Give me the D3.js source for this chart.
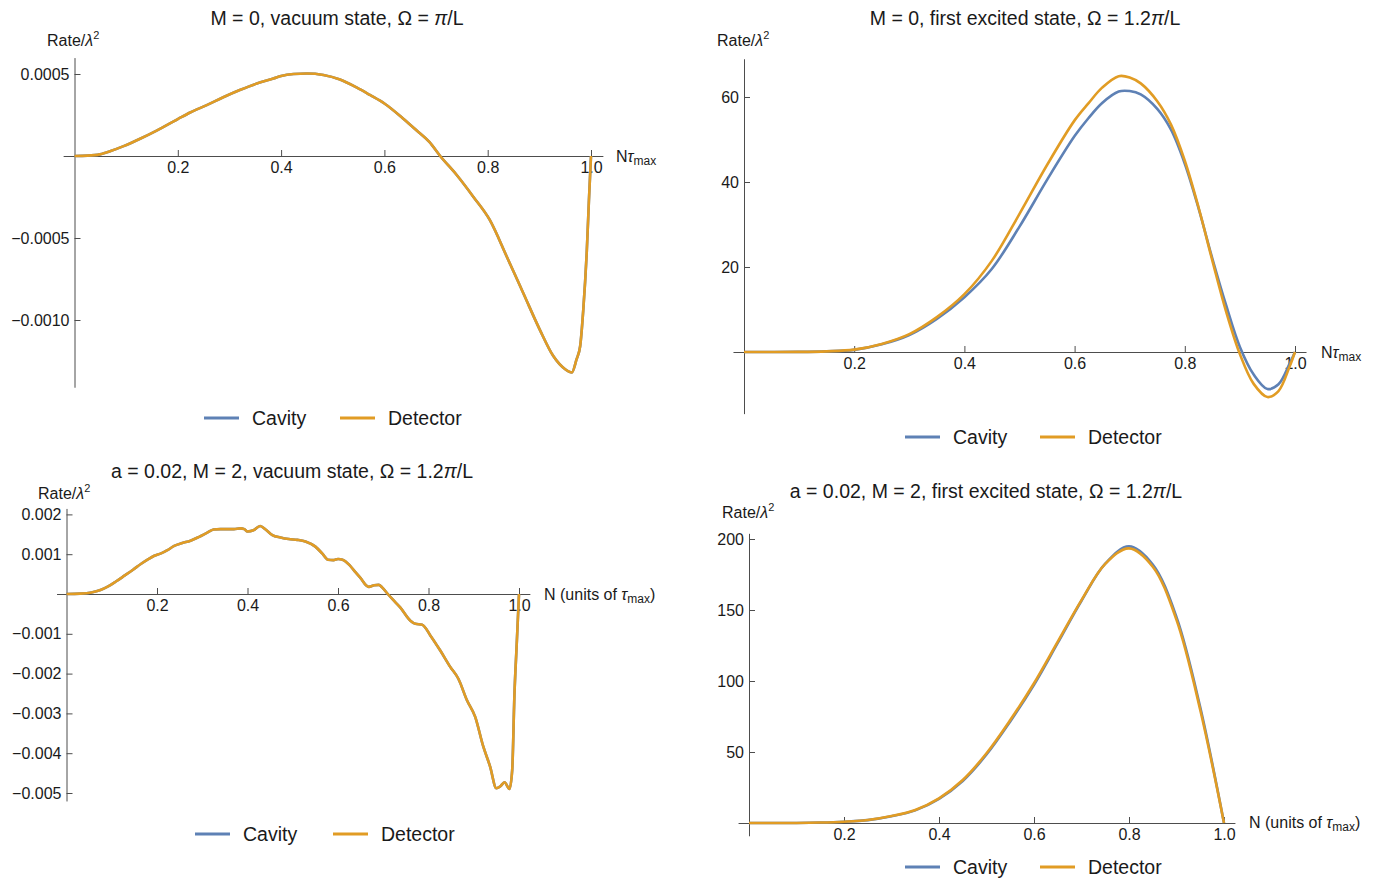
<!DOCTYPE html>
<html><head><meta charset="utf-8">
<script src="https://cdn.jsdelivr.net/npm/d3@7"></script>
<style>
body{margin:0;background:#fff}
text{font-family:"Liberation Sans",Arial,sans-serif;fill:#1a1a1a}
</style>
</head><body>
<svg id="c" width="1385" height="878"></svg>
<script>
// ---------- data ----------
const seriesNames = ["Cavity", "Detector"];
const seriesColors = ["#5E81B5", "#E19C24"];

// Panel 1: M = 0, vacuum state
const p1X = [0,0.025,0.049,0.07,0.095,0.127,0.159,0.2,0.224,0.256,0.288,0.32,0.353,0.385,0.4,0.424,0.45,0.482,0.514,0.546,0.572,0.6,0.636,0.662,0.687,0.708,0.74,0.772,0.804,0.837,0.869,0.901,0.927,0.95,0.963,0.972,0.979,0.985,0.992,0.996,1.0];
const p1Detector = [0,0.000002,0.00001,0.00003,0.00006,0.000105,0.000155,0.000225,0.000265,0.00031,0.000358,0.000402,0.000442,0.000472,0.000488,0.0005,0.000503,0.000494,0.000466,0.000418,0.000372,0.00032,0.000229,0.000157,0.000086,0,-0.000116,-0.000248,-0.00039,-0.000614,-0.000837,-0.00106,-0.00122,-0.0013,-0.00132,-0.00124,-0.00116,-0.00094,-0.00057,-0.00027,0];
const p1Cavity = [0,0.000002,0.00001,0.00003,0.00006,0.000105,0.000155,0.000225,0.000265,0.00031,0.000358,0.000402,0.000442,0.000472,0.000488,0.0005,0.000503,0.000494,0.000466,0.000418,0.000372,0.00032,0.000229,0.000157,0.000086,0,-0.000116,-0.000248,-0.00039,-0.000614,-0.000837,-0.00106,-0.00122,-0.0013,-0.00132,-0.00124,-0.00116,-0.00094,-0.00057,-0.00027,0];
const p1YTicks = [0.0005, -0.0005, -0.0010];
const p1YTickLabels = ["0.0005", "\u22120.0005", "\u22120.0010"];

// Panel 2: M = 0, first excited state
const p2X = [0,0.1,0.15,0.2,0.25,0.3,0.35,0.4,0.45,0.5,0.55,0.6,0.625,0.65,0.68,0.7,0.72,0.75,0.775,0.8,0.825,0.85,0.875,0.9,0.925,0.95,0.97,0.99,1.0];
const p2Detector = [0,0.02,0.15,0.55,1.9,4.2,8.2,13.6,21.5,32.5,44.0,54.5,58.5,62.2,64.9,64.6,63.2,59.0,53.5,45.0,34.0,21.5,9.5,-0.5,-7.5,-10.6,-9.2,-3.5,0];
const p2Cavity = [0,0.02,0.15,0.5,1.8,4.0,7.8,12.9,19.6,29.5,40.5,50.8,55.0,58.6,61.3,61.4,60.6,57.2,52.3,44.3,33.8,22.0,11.0,1.2,-5.3,-8.7,-7.6,-2.8,0];
const p2YTicks = [20, 40, 60];
const p2YTickLabels = ["20", "40", "60"];

// Panel 3: a = 0.02, M = 2, vacuum state
const p3X = [0,0.03,0.055,0.075,0.092,0.11,0.128,0.147,0.165,0.18,0.194,0.209,0.223,0.238,0.256,0.274,0.292,0.311,0.325,0.34,0.355,0.37,0.384,0.393,0.4,0.413,0.428,0.44,0.455,0.473,0.491,0.51,0.528,0.55,0.565,0.578,0.59,0.6,0.61,0.625,0.637,0.65,0.662,0.668,0.68,0.69,0.698,0.71,0.722,0.737,0.76,0.771,0.786,0.804,0.826,0.848,0.866,0.885,0.903,0.921,0.936,0.95,0.959,0.968,0.979,0.985,0.99,0.995,1.0];
const p3Detector = [0,0.00001,0.00004,0.0001,0.00019,0.00032,0.00046,0.00061,0.00076,0.00087,0.00096,0.00102,0.0011,0.00121,0.00128,0.00134,0.00143,0.00154,0.00162,0.00163,0.00163,0.00163,0.00165,0.00163,0.00157,0.0016,0.00171,0.00162,0.00148,0.00142,0.00138,0.00136,0.00132,0.00119,0.00102,0.00086,0.00085,0.00088,0.00086,0.00073,0.00057,0.0004,0.00022,0.00018,0.00022,0.00023,0.00016,0,-0.00015,-0.00033,-0.00067,-0.00075,-0.00077,-0.00104,-0.00142,-0.00183,-0.00213,-0.00267,-0.00308,-0.00383,-0.00433,-0.00488,-0.00483,-0.00473,-0.0049,-0.00442,-0.0025,-0.00125,0];
const p3Cavity = [0,0.00001,0.00004,0.0001,0.00019,0.00032,0.00046,0.00061,0.00076,0.00087,0.00096,0.00102,0.0011,0.00121,0.00128,0.00134,0.00143,0.00154,0.00162,0.00163,0.00163,0.00163,0.00165,0.00163,0.00157,0.0016,0.00171,0.00162,0.00148,0.00142,0.00138,0.00136,0.00132,0.00119,0.00102,0.00086,0.00085,0.00088,0.00086,0.00073,0.00057,0.0004,0.00022,0.00018,0.00022,0.00023,0.00016,0,-0.00015,-0.00033,-0.00067,-0.00075,-0.00077,-0.00104,-0.00142,-0.00183,-0.00213,-0.00267,-0.00308,-0.00383,-0.00433,-0.00488,-0.00483,-0.00473,-0.0049,-0.00442,-0.0025,-0.00125,0];
const p3YTicks = [0.002, 0.001, -0.001, -0.002, -0.003, -0.004, -0.005];
const p3YTickLabels = ["0.002", "0.001", "\u22120.001", "\u22120.002", "\u22120.003", "\u22120.004", "\u22120.005"];

// Panel 4: a = 0.02, M = 2, first excited state
const p4X = [0,0.1,0.15,0.2,0.25,0.3,0.35,0.4,0.45,0.5,0.55,0.6,0.65,0.7,0.75,0.8,0.85,0.9,0.95,1.0];
const p4Detector = [0,0.05,0.3,0.9,2.1,4.9,9.2,17.4,30.3,49.1,72.5,98.4,127.7,157,182.5,193.4,180.5,143,79.6,0];
const p4Cavity = [0,0.05,0.3,0.9,2.0,4.7,8.9,17.0,29.6,48.2,71.5,97.3,126.8,156.5,182.6,194.8,182,145,81.5,0];
const p4YTicks = [50, 100, 150, 200];
const p4YTickLabels = ["50", "100", "150", "200"];

const xTicks = [0.2, 0.4, 0.6, 0.8, 1.0];
const xTickLabels = ["0.2", "0.4", "0.6", "0.8", "1.0"];

// ---------- layout ----------
const panels = [
  {x: p1X, series: [p1Cavity, p1Detector], yTicks: p1YTicks, yLabels: p1YTickLabels, smooth: false,
   xPx: [74.5, 591], xExt: [-0.022, 1.023], yRef: [0, 0.0005], yPx: [156, 74], yExt: [-0.00141, 0.0006], yMinorStep: 0.0001,
   title: [["M = 0, vacuum state, \u03A9 = ",""],["\u03C0","i"],["/L",""]], titlePos: [337, 25],
   yLab: [47, 46], xLab: {pos: [616, 162], kind: "short"}, legendY: 418, legendX: [204, 340]},
  {x: p2X, series: [p2Cavity, p2Detector], yTicks: p2YTicks, yLabels: p2YTickLabels, smooth: true,
   xPx: [744, 1295], xExt: [-0.02, 1.02], yRef: [0, 60], yPx: [352, 97], yExt: [-14.5, 69], yMinorStep: 5,
   title: [["M = 0, first excited state, \u03A9 = 1.2",""],["\u03C0","i"],["/L",""]], titlePos: [1025, 25],
   yLab: [717, 46], xLab: {pos: [1321, 358], kind: "short"}, legendY: 437, legendX: [905, 1040]},
  {x: p3X, series: [p3Cavity, p3Detector], yTicks: p3YTicks, yLabels: p3YTickLabels, smooth: false,
   xPx: [66.5, 519], xExt: [-0.022, 1.024], yRef: [0, -0.005], yPx: [594, 793], yExt: [-0.0052, 0.00215], yMinorStep: 0.0002,
   title: [["a = 0.02, M = 2, vacuum state, \u03A9 = 1.2",""],["\u03C0","i"],["/L",""]], titlePos: [292, 478],
   yLab: [38, 499], xLab: {pos: [544, 600], kind: "long"}, legendY: 834, legendX: [195, 333]},
  {x: p4X, series: [p4Cavity, p4Detector], yTicks: p4YTicks, yLabels: p4YTickLabels, smooth: true,
   xPx: [749, 1224], xExt: [-0.023, 1.023], yRef: [0, 200], yPx: [823, 539], yExt: [-9, 204], yMinorStep: 10,
   title: [["a = 0.02, M = 2, first excited state, \u03A9 = 1.2",""],["\u03C0","i"],["/L",""]], titlePos: [986, 498],
   yLab: [722, 518], xLab: {pos: [1249, 828], kind: "long"}, legendY: 867, legendX: [905, 1040]}
];

const svg = d3.select("#c");
const axisColor = "#4d4d4d";
const tickFont = 16, titleFont = 19.5, axisLabFont = 16, legendFont = 19.5;

panels.forEach(p => {
  const g = svg.append("g");
  const xs = d3.scaleLinear().domain([0, 1]).range(p.xPx);
  const ys = d3.scaleLinear().domain(p.yRef).range(p.yPx);
  const xAxisScale = xs.copy().domain(p.xExt).range(p.xExt.map(xs));
  const yAxisScale = ys.copy().domain(p.yExt).range(p.yExt.map(ys));
  const y0 = ys(0), x0 = xs(0);

  // minor ticks
  const xMinor = d3.range(1, 21).map(i => i * 0.05);
  const yMinor = d3.range(Math.ceil(p.yExt[0] / p.yMinorStep - 1e-9), Math.floor(p.yExt[1] / p.yMinorStep + 1e-9) + 1)
    .map(i => i * p.yMinorStep).filter(v => Math.abs(v) > 1e-12);

  const gx = g.append("g").attr("transform", `translate(0,${y0})`);
  gx.call(d3.axisBottom(xAxisScale).tickValues(xMinor).tickSizeInner(-4).tickSizeOuter(0).tickFormat(""));
  gx.call(d3.axisBottom(xAxisScale).tickValues(xTicks).tickSizeInner(-6).tickSizeOuter(0).tickPadding(6)
    .tickFormat((d, i) => xTickLabels[i]));
  const gy = g.append("g").attr("transform", `translate(${x0},0)`);
  gy.call(d3.axisLeft(yAxisScale).tickValues(yMinor).tickSizeInner(-4).tickSizeOuter(0).tickFormat(""));
  gy.call(d3.axisLeft(yAxisScale).tickValues(p.yTicks).tickSizeInner(-6).tickSizeOuter(0).tickPadding(5)
    .tickFormat((d, i) => p.yLabels[i]));
  [gx, gy].forEach(a => {
    a.selectAll("path,line").attr("stroke", axisColor).attr("stroke-width", 1);
    a.selectAll("text").attr("font-family", '"Liberation Sans",Arial,sans-serif').attr("font-size", tickFont).attr("fill", "#1a1a1a");
  });

  // curves
  const line = d3.line().x((d, i) => xs(p.x[i])).y(d => ys(d))
    .curve(p.smooth ? d3.curveCatmullRom.alpha(0.5) : d3.curveMonotoneX);
  p.series.forEach((s, k) => {
    g.append("path").datum(s).attr("d", line).attr("fill", "none")
      .attr("stroke", seriesColors[k]).attr("stroke-width", 2.6).attr("stroke-linejoin", "round");
  });

  // title
  const t = g.append("text").attr("x", p.titlePos[0]).attr("y", p.titlePos[1])
    .attr("text-anchor", "middle").attr("font-size", titleFont);
  p.title.forEach(([s, st]) => {
    const ts = t.append("tspan").text(s);
    if (st === "i") ts.attr("font-style", "italic");
  });

  // y label
  const yl = g.append("text").attr("x", p.yLab[0]).attr("y", p.yLab[1]).attr("font-size", axisLabFont);
  yl.append("tspan").text("Rate/");
  yl.append("tspan").text("\u03BB").attr("font-style", "italic");
  yl.append("tspan").text("2").attr("font-size", 11).attr("dy", -7);

  // x label
  const xl = g.append("text").attr("x", p.xLab.pos[0]).attr("y", p.xLab.pos[1]).attr("font-size", axisLabFont);
  if (p.xLab.kind === "short") {
    xl.append("tspan").text("N");
    xl.append("tspan").text("\u03C4").attr("font-style", "italic");
    xl.append("tspan").text("max").attr("font-size", 12).attr("dy", 3);
  } else {
    xl.append("tspan").text("N (units of ");
    xl.append("tspan").text("\u03C4").attr("font-style", "italic");
    xl.append("tspan").text("max").attr("font-size", 12).attr("dy", 3);
    xl.append("tspan").text(")").attr("dy", -3);
  }

  // legend
  seriesNames.forEach((name, k) => {
    const lx = p.legendX[k];
    g.append("line").attr("x1", lx).attr("x2", lx + 35).attr("y1", p.legendY).attr("y2", p.legendY)
      .attr("stroke", seriesColors[k]).attr("stroke-width", 3);
    g.append("text").attr("x", lx + 48).attr("y", p.legendY + 7).attr("font-size", legendFont).text(name);
  });
});
</script>
</body></html>
